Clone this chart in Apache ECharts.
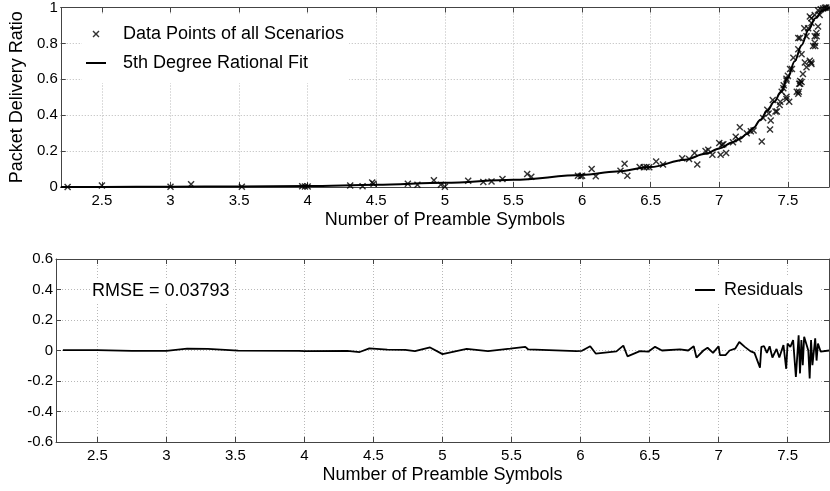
<!DOCTYPE html>
<html><head><meta charset="utf-8">
<script src="https://cdn.jsdelivr.net/npm/echarts@6/dist/echarts.min.js"></script>
<style>html,body{margin:0;padding:0;background:#fff}#c{width:830px;height:491px}</style>
</head><body><div id="c"></div>
<script>
// ---- data ----
const xTicks = [2.5, 3, 3.5, 4, 4.5, 5, 5.5, 6, 6.5, 7, 7.5];
const seriesNames = ['Data Points of all Scenarios', '5th Degree Rational Fit', 'Residuals'];
const xAxisTitle = 'Number of Preamble Symbols';
const yAxisTitle = 'Packet Delivery Ratio';
const rmseLabel = 'RMSE = 0.03793';

const dataPoints = [
  [2.25,0.0],[2.5,0.008],[3.0,0.002],[3.15,0.015],[3.52,0.002],[3.96,0.004],[3.98,0.003],[4.0,0.003],
  [4.31,0.008],[4.4,0.004],[4.47,0.025],[4.48,0.018],[4.73,0.018],[4.8,0.012],[4.92,0.037],[4.97,0.012],[5.0,0.002],
  [5.17,0.035],[5.28,0.028],[5.34,0.031],[5.42,0.045],[5.6,0.072],[5.63,0.057],[5.97,0.062],[5.99,0.06],[6.0,0.062],
  [6.07,0.1],[6.1,0.06],[6.28,0.09],[6.31,0.13],[6.33,0.062],[6.42,0.112],[6.45,0.11],[6.47,0.112],[6.49,0.11],
  [6.54,0.142],[6.59,0.125],[6.73,0.16],[6.78,0.156],[6.82,0.19],[6.84,0.125],[6.9,0.2],[6.92,0.208],[6.95,0.18],
  [7.0,0.245],[7.01,0.18],[7.02,0.235],[7.03,0.238],[7.05,0.19],[7.1,0.25],[7.12,0.28],[7.14,0.266],[7.15,0.333],
  [7.2,0.3],[7.23,0.31],[7.25,0.315],[7.31,0.253],[7.32,0.384],[7.35,0.43],[7.36,0.41],[7.37,0.32],[7.375,0.37],
  [7.39,0.485],[7.41,0.42],[7.42,0.42],[7.44,0.457],[7.445,0.475],[7.455,0.53],[7.467,0.55],[7.47,0.567],
  [7.49,0.49],[7.49,0.503],[7.49,0.594],[7.49,0.603],[7.5,0.62],[7.51,0.475],[7.516,0.657],[7.53,0.657],
  [7.54,0.72],[7.565,0.53],[7.576,0.52],[7.58,0.53],[7.583,0.575],[7.59,0.575],[7.59,0.59],[7.6,0.585],
  [7.576,0.767],[7.576,0.83],[7.588,0.83],[7.6,0.74],[7.61,0.63],[7.62,0.885],[7.624,0.694],[7.636,0.667],
  [7.636,0.84],[7.648,0.885],[7.66,0.703],[7.66,0.95],[7.67,0.694],[7.672,0.685],[7.672,0.913],[7.672,0.94],
  [7.684,0.785],[7.696,0.84],[7.696,0.803],[7.7,0.785],[7.708,0.858],[7.71,0.84],[7.72,0.894],[7.696,0.958],
  [7.732,0.958],[7.72,0.985],[7.74,0.99],[7.757,0.995],[7.77,0.998],[7.78,1.0],[7.8,1.0]
];

const fitCurve = [
  [2.2,0],[2.5,0.0005],[3.0,0.0015],[3.5,0.003],[4.0,0.006],[4.5,0.012],[5.0,0.023],[5.5,0.04],
  [6.0,0.067],[6.25,0.086],[6.5,0.111],[6.75,0.152],[6.9,0.185],[7.0,0.215],[7.1,0.25],[7.15,0.268],
  [7.2,0.295],[7.25,0.33],[7.3,0.375],[7.35,0.425],[7.4,0.475],[7.45,0.53],[7.5,0.61],[7.55,0.70],
  [7.6,0.79],[7.65,0.875],[7.7,0.94],[7.75,0.98],[7.8,1.0]
];

const residuals = [
  [2.25,0.002],[2.5,0.002],[2.75,-0.002],[3.0,-0.002],[3.15,0.012],[3.3,0.01],[3.52,-0.001],[3.96,-0.002],
  [4.0,-0.004],[4.31,-0.002],[4.4,-0.01],[4.47,0.014],[4.48,0.008],[4.6,0.006],[4.73,0.004],[4.8,-0.004],
  [4.91,0.02],[5.0,-0.024],[5.175,0.01],[5.33,-0.004],[5.49,0.012],[5.6,0.024],[5.62,0.008],[5.97,-0.004],
  [6.01,-0.002],[6.07,0.028],[6.11,-0.02],[6.26,-0.006],[6.31,0.032],[6.34,-0.038],[6.43,-0.004],[6.49,-0.008],
  [6.54,0.024],[6.59,0],[6.72,0.008],[6.78,0],[6.82,0.028],[6.84,-0.046],[6.89,0],[6.92,0.018],[6.96,-0.016],
  [7.0,0.028],[7.01,-0.03],[7.05,-0.03],[7.08,0],[7.12,0.012],[7.15,0.056],[7.19,0.024],[7.23,-0.004],
  [7.26,-0.016],[7.3,-0.112],[7.31,0.024],[7.33,0.028],[7.35,-0.016],[7.37,0.028],[7.39,-0.046],[7.42,0.01],
  [7.44,-0.046],[7.47,0.036],[7.49,-0.12],[7.5,0.046],[7.52,0.024],[7.54,0.068],[7.56,-0.174],[7.58,0.1],
  [7.59,-0.15],[7.6,0.068],[7.61,-0.096],[7.62,0.09],[7.65,0],[7.66,-0.184],[7.67,0.068],[7.68,-0.096],
  [7.7,0.08],[7.71,-0.066],[7.72,0.046],[7.74,-0.008],[7.8,0]
];

// ---- styling ----
const FONT = "'Liberation Sans', Arial, Helvetica, sans-serif";
const BOX = '#444';
const GRIDC = '#b8b8b8';
const xMarker = 'path://M6.5,4.5L7.5,3.5L10,6L12.5,3.5L13.5,4.5L11,7L13.5,9.5L12.5,10.5L10,8L7.5,10.5L6.5,9.5L9,7Z';
const xIconLegend = 'path://M0,0L0.01,0L0,0.01Z M20,14L19.99,14L20,13.99Z M6.5,4.5L7.5,3.5L10,6L12.5,3.5L13.5,4.5L11,7L13.5,9.5L12.5,10.5L10,8L7.5,10.5L6.5,9.5L9,7Z';
const lineIconLegend = 'path://M0,0L0.01,0L0,0.01Z M20,14L19.99,14L20,13.99Z M0,6.1H20V7.9H0Z';

function mainX(gi) {
  return {
    type: 'value', gridIndex: gi, min: 2.2, max: 7.8, position: 'bottom',
    name: xAxisTitle, nameLocation: 'middle', nameGap: 24,
    nameTextStyle: { fontSize: 18, fontFamily: FONT, color: '#000' },
    axisLine: { onZero: false, lineStyle: { color: BOX, width: 1 } },
    axisTick: { inside: true, length: 5, customValues: xTicks, lineStyle: { color: BOX } },
    axisLabel: { customValues: xTicks, fontSize: 15, fontFamily: FONT, color: '#000', margin: 6 },
    splitLine: { show: true, lineStyle: { color: GRIDC, type: [1, 2], width: 1 } }
  };
}
function topX(gi) {
  return {
    type: 'value', gridIndex: gi, min: 2.2, max: 7.8, position: 'top',
    axisLine: { onZero: false, lineStyle: { color: BOX, width: 1 } },
    axisTick: { inside: true, length: 5, customValues: xTicks, lineStyle: { color: BOX } },
    axisLabel: { show: false }, splitLine: { show: false }
  };
}
function leftY(gi, min, max, name) {
  return {
    type: 'value', gridIndex: gi, min: min, max: max, interval: 0.2, position: 'left',
    name: name || '', nameLocation: 'middle', nameGap: 31,
    nameTextStyle: { fontSize: 18, fontFamily: FONT, color: '#000' },
    axisLine: { show: true, onZero: false, lineStyle: { color: BOX, width: 1 } },
    axisTick: { show: true, inside: true, length: 5, lineStyle: { color: BOX } },
    axisLabel: { fontSize: 15, fontFamily: FONT, color: '#000', margin: 3 },
    splitLine: { show: true, lineStyle: { color: GRIDC, type: [1, 2], width: 1 } }
  };
}
function rightY(gi, min, max) {
  return {
    type: 'value', gridIndex: gi, min: min, max: max, interval: 0.2, position: 'right',
    axisLine: { show: true, onZero: false, lineStyle: { color: BOX, width: 1 } },
    axisTick: { show: true, inside: true, length: 5, lineStyle: { color: BOX } },
    axisLabel: { show: false }, splitLine: { show: false }
  };
}

const chart = echarts.init(document.getElementById('c'), null, { renderer: 'canvas' });
chart.setOption({
  animation: false,
  backgroundColor: '#fff',
  grid: [
    { left: 56, right: 1, top: 4, height: 183 },
    { left: 56, right: 1, top: 259, height: 183 }
  ],
  xAxis: [mainX(0), topX(0), mainX(1), topX(1)],
  yAxis: [leftY(0, 0, 1, yAxisTitle), rightY(0, 0, 1), leftY(1, -0.6, 0.6), rightY(1, -0.6, 0.6)],
  legend: [
    {
      orient: 'vertical', left: 82, top: 14, itemWidth: 20, itemHeight: 14, itemGap: 9,
      padding: [10, 5, 10, 4], backgroundColor: '#fff', selectedMode: false,
      textStyle: { fontSize: 18, fontFamily: FONT, color: '#000', lineHeight: 20, padding: [0, 0, 0, 12] },
      data: [
        { name: seriesNames[0], icon: xIconLegend },
        { name: seriesNames[1], icon: lineIconLegend }
      ]
    },
    {
      orient: 'vertical', left: 691, top: 276, itemWidth: 20, itemHeight: 14,
      padding: [4, 16, 4, 4], backgroundColor: '#fff', selectedMode: false,
      textStyle: { fontSize: 18, fontFamily: FONT, color: '#000', lineHeight: 20, padding: [0, 0, 0, 4] },
      data: [{ name: seriesNames[2], icon: lineIconLegend }]
    }
  ],
  graphic: [{
    type: 'text', left: 90, top: 280, z: 100,
    style: { text: rmseLabel, font: '18px ' + FONT, fill: '#000', backgroundColor: '#fff', padding: [2, 2, 2, 2] }
  }],
  series: [
    {
      name: seriesNames[0], type: 'scatter', xAxisIndex: 0, yAxisIndex: 0,
      data: dataPoints, symbol: xMarker, symbolSize: 7, color: '#000',
      itemStyle: { color: '#000' }, z: 3
    },
    {
      name: seriesNames[1], type: 'line', xAxisIndex: 0, yAxisIndex: 0,
      data: fitCurve, showSymbol: false, symbol: 'none', smooth: 0.35, smoothMonotone: 'x',
      color: '#000', lineStyle: { color: '#000', width: 2 }, itemStyle: { color: '#000' }, z: 4
    },
    {
      name: seriesNames[2], type: 'line', xAxisIndex: 2, yAxisIndex: 2,
      data: residuals, showSymbol: false, symbol: 'none',
      color: '#000', lineStyle: { color: '#000', width: 1.8 }, itemStyle: { color: '#000' }, z: 4
    }
  ]
});
</script>
</body></html>
